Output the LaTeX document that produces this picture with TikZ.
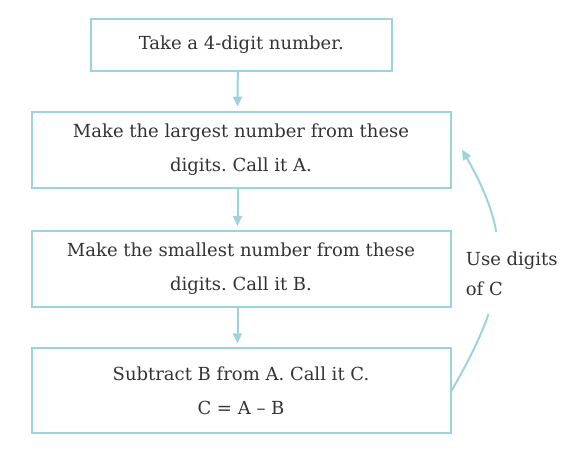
\documentclass[tikz,border=0pt]{standalone}
\usepackage{fontspec}
\setmainfont{DejaVu Serif}
\usepackage{xcolor}
\usetikzlibrary{arrows.meta}
\definecolor{edge}{HTML}{9DD3DB}
\definecolor{ink}{HTML}{333333}
\frenchspacing

\begin{document}
\begin{tikzpicture}[x=1pt, y=1pt, >={Triangle[length=10pt,width=9pt]},
	box/.style={draw=edge, line width=2pt, align=center, text=ink, inner sep=0pt,
		font=\fontsize{18}{34}\selectfont},
	flow/.style={->, color=edge, line width=2pt, shorten >=4pt}]
	\useasboundingbox (0,0) rectangle (569,462);
	% steps
	\node (a) at (241.3,417.1) [box, minimum width=301pt, minimum height=52pt] {Take a 4-digit number.};
	\node (b) at (241,312.3) [box, minimum width=419pt, minimum height=76pt] {Make the largest number from these\\digits. Call it A.};
	\node (c) at (241,193) [box, minimum width=419pt, minimum height=76pt] {Make the smallest number from these\\digits. Call it B.};
	\node (d) at (241,71.2) [box, minimum width=419pt, minimum height=85pt] {Subtract B from A. Call it C.\\C = A -- B};
	\draw[flow] ([xshift=-3.5pt]a.south) -- ([xshift=-3.5pt]b.north);
	\draw[flow] ([xshift=-3.5pt]b.south) -- ([xshift=-3.5pt]c.north);
	\draw[flow] ([xshift=-3.5pt]c.south) -- ([xshift=-3.5pt]d.north);
	% loop back
	\draw[flow, shorten >=0pt] (d.east) to[out=60, in=-60, looseness=1.15] ([xshift=10.5pt]b.east);
	\node (e) at (463.7,188.6) [anchor=west, fill=white, align=left, text=ink, inner xsep=2pt,
		minimum height=82pt, font=\fontsize{18}{30}\selectfont] {Use digits\\of C};
\end{tikzpicture}
\end{document}
